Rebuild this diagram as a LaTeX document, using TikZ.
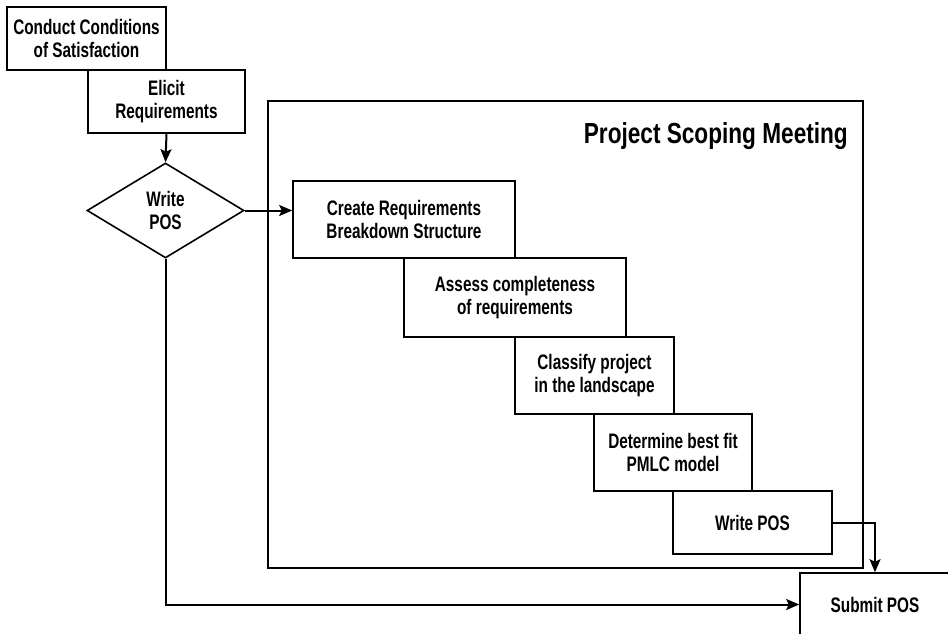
\documentclass[tikz,border=0pt]{standalone}
\usepackage{fontspec}
\newfontfamily\cond{Liberation Sans}[FakeStretch=0.73]
\newfontfamily\condt{Liberation Sans}[FakeStretch=0.78]
\usetikzlibrary{shapes.geometric,arrows.meta}
\tikzset{
  box/.style={draw, line width=1.6pt, rectangle, inner sep=0pt, align=center,
    font=\cond\bfseries\fontsize{21}{22.5}\selectfont},
  dec/.style={draw, line width=1.6pt, diamond, inner sep=0pt, align=center,
    font=\cond\bfseries\fontsize{21}{22.5}\selectfont},
  conn/.style={line width=2pt, -{Stealth[length=13pt,width=11pt,inset=2.5pt]}},
  frame/.style={draw, line width=1.6pt, rectangle, inner sep=0pt},
  title/.style={font=\condt\bfseries\fontsize{29}{32}\selectfont, inner sep=0pt}
}
\begin{document}
\begin{tikzpicture}[x=1pt,y=-1pt]
\useasboundingbox (0,0) rectangle (948,634);
\node[frame, minimum width=595pt, minimum height=467pt] (meet) at (565.5,334.5) {};
\node[title, anchor=base east] (ttl) at (848,143) {Project Scoping Meeting};
\node[box, minimum width=159pt, minimum height=63pt] (conduct) at (86.5,38.5) {Conduct Conditions\\of Satisfaction};
\node[box, minimum width=157pt, minimum height=63pt] (elicit) at (166.5,101.5) {Elicit\\Requirements};
\node[dec, minimum width=157pt, minimum height=95pt] (wpos) at (165.5,210.5) {Write\\POS};
\node[box, minimum width=222pt, minimum height=77pt] (create) at (404,219.5) {Create Requirements\\Breakdown Structure};
\node[box, minimum width=222pt, minimum height=79pt] (assess) at (515,297.5) {Assess completeness\\of requirements};
\node[box, minimum width=159pt, minimum height=77pt] (classify) at (594.5,375.5) {Classify project\\in the landscape};
\node[box, minimum width=158pt, minimum height=77pt] (determine) at (673,452.5) {Determine best fit\\PMLC model};
\node[box, minimum width=159pt, minimum height=63pt] (write) at (752.5,522.5) {Write POS};
\node[box, minimum width=150pt, minimum height=63pt] (submit) at (875,604.5) {Submit POS};
\draw[conn] (elicit.south) -- (wpos.north);
\draw[conn] (wpos.east) -- (wpos.east -| create.west);
\draw[conn] (write.east) -| (submit.north);
\draw[conn] (wpos.south) |- (submit.west);
\end{tikzpicture}
\end{document}
